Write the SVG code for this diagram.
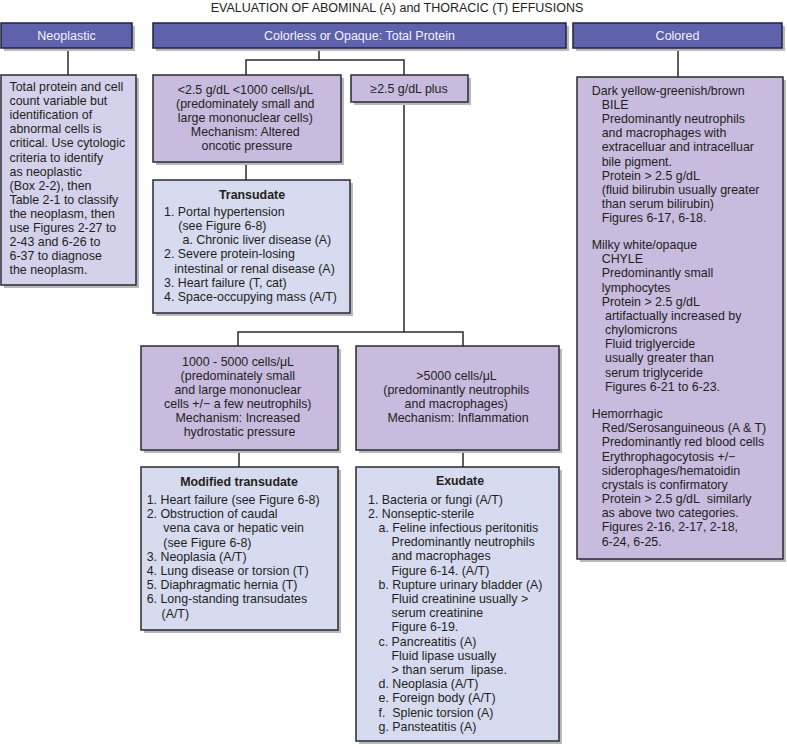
<svg xmlns="http://www.w3.org/2000/svg" width="787" height="747" viewBox="0 0 787 747">
<style>
text{font-family:"Liberation Sans",Arial,sans-serif;font-size:12.4px;fill:#231f20}
.title{font-size:12.5px;text-anchor:middle}
.hd{fill:#5e62ac;stroke:#22223a;stroke-width:1.5}
.hdt{fill:#f4f4fa;font-size:12.5px;text-anchor:middle}
.pu{fill:#c8bbde;stroke:#2a2a33;stroke-width:1.5}
.bl{fill:#d6dbef;stroke:#2a2a33;stroke-width:1.5}
.ne{fill:#d4d1ea;stroke:#2a2a33;stroke-width:1.5}
.sh{fill:#b9b9bd}
.c{text-anchor:middle}
.b{font-weight:bold}
.ln{fill:none;stroke:#2a2a2a;stroke-width:1.5}
</style>
<rect width="787" height="747" fill="#ffffff"/>
<text class="title" x="397" y="11.5">EVALUATION OF ABOMINAL (A) and THORACIC (T) EFFUSIONS</text>

<g id="connectors">
<path class="ln" d="M68,48V75"/>
<path class="ln" d="M319,48V60M246,75V60H404V75"/>
<path class="ln" d="M246,162V180"/>
<path class="ln" d="M404,102V332M238,346V332H463V346"/>
<path class="ln" d="M239,450V467"/>
<path class="ln" d="M463,450V467"/>
<path class="ln" d="M678,48V77"/>
</g>

<g id="h-neoplastic">
<rect class="sh" x="4" y="26" width="131" height="25"/>
<rect class="hd" x="1" y="23" width="131" height="25"/>
<text class="hdt" x="66.5" y="40">Neoplastic</text>
</g>
<g id="h-colorless">
<rect class="sh" x="156" y="26" width="413" height="25"/>
<rect class="hd" x="153" y="23" width="413" height="25"/>
<text class="hdt" x="359.5" y="40">Colorless or Opaque: Total Protein</text>
</g>
<g id="h-colored">
<rect class="sh" x="576" y="26" width="209" height="25"/>
<rect class="hd" x="573" y="23" width="209" height="25"/>
<text class="hdt" x="677.5" y="40">Colored</text>
</g>

<g id="neoplastic">
<rect class="sh" x="4" y="78" width="135" height="210"/>
<rect class="ne" x="1" y="75" width="135" height="210"/>
<text>
<tspan x="9.5" y="91">Total protein and cell</tspan>
<tspan x="9.5" y="105.1">count variable but</tspan>
<tspan x="9.5" y="119.2">identification of</tspan>
<tspan x="9.5" y="133.3">abnormal cells is</tspan>
<tspan x="9.5" y="147.4">critical. Use cytologic</tspan>
<tspan x="9.5" y="161.5">criteria to identify</tspan>
<tspan x="9.5" y="175.6">as neoplastic</tspan>
<tspan x="9.5" y="189.7">(Box 2-2), then</tspan>
<tspan x="9.5" y="203.8">Table 2-1 to classify</tspan>
<tspan x="9.5" y="217.9">the neoplasm, then</tspan>
<tspan x="9.5" y="232">use Figures 2-27 to</tspan>
<tspan x="9.5" y="246.1">2-43 and 6-26 to</tspan>
<tspan x="9.5" y="260.2">6-37 to diagnose</tspan>
<tspan x="9.5" y="274.3">the neoplasm.</tspan>
</text>
</g>

<g id="low-protein">
<rect class="sh" x="156" y="78" width="188" height="87"/>
<rect class="pu" x="153" y="75" width="188" height="87"/>
<text class="c">
<tspan x="247" y="94">&lt;2.5 g/dL &lt;1000 cells/μL</tspan>
<tspan x="247" y="108.1">(predominately small and</tspan>
<tspan x="247" y="122.2">large mononuclear cells)</tspan>
<tspan x="247" y="136.3">Mechanism: Altered</tspan>
<tspan x="247" y="150.4">oncotic pressure</tspan>
</text>
</g>

<g id="high-protein">
<rect class="sh" x="354" y="78" width="117" height="27"/>
<rect class="pu" x="351" y="75" width="117" height="27"/>
<text class="c" x="409" y="92.5">≥2.5 g/dL plus</text>
</g>

<g id="transudate">
<rect class="sh" x="156" y="183" width="197" height="133"/>
<rect class="bl" x="153" y="180" width="197" height="133"/>
<text class="c b" x="252" y="199">Transudate</text>
<text>
<tspan x="164" y="215.7">1. Portal hypertension</tspan>
<tspan x="178.3" y="229.9">(see Figure 6-8)</tspan>
<tspan x="182.5" y="244.1">a. Chronic liver disease (A)</tspan>
<tspan x="164" y="258.3">2. Severe protein-losing</tspan>
<tspan x="174.3" y="272.5">intestinal or renal disease (A)</tspan>
<tspan x="164" y="286.7">3. Heart failure (T, cat)</tspan>
<tspan x="164" y="300.9">4. Space-occupying mass (A/T)</tspan>
</text>
</g>

<g id="cells-1000-5000">
<rect class="sh" x="144" y="349" width="197" height="104"/>
<rect class="pu" x="141" y="346" width="197" height="104"/>
<text class="c">
<tspan x="239.5" y="365.7">1000 - 5000 cells/μL</tspan>
<tspan x="239.5" y="379.8">(predominately small</tspan>
<tspan x="239.5" y="393.9">and large mononuclear</tspan>
<tspan x="239.5" y="408">cells +/− a few neutrophils)</tspan>
<tspan x="239.5" y="422.1">Mechanism: Increased</tspan>
<tspan x="239.5" y="436.2">hydrostatic pressure</tspan>
</text>
</g>

<g id="cells-5000">
<rect class="sh" x="359" y="349" width="203" height="104"/>
<rect class="pu" x="356" y="346" width="203" height="104"/>
<text class="c">
<tspan x="458" y="379.7">&gt;5000 cells/μL</tspan>
<tspan x="458" y="393.8">(predominantly neutrophils</tspan>
<tspan x="458" y="407.9">and macrophages)</tspan>
<tspan x="458" y="422">Mechanism: Inflammation</tspan>
</text>
</g>

<g id="modified-transudate">
<rect class="sh" x="144" y="470" width="197" height="163"/>
<rect class="bl" x="141" y="467" width="197" height="163"/>
<text class="c b" x="239" y="485.7">Modified transudate</text>
<text>
<tspan x="146.7" y="504">1. Heart failure (see Figure 6-8)</tspan>
<tspan x="146.7" y="518.2">2. Obstruction of caudal</tspan>
<tspan x="163.3" y="532.4">vena cava or hepatic vein</tspan>
<tspan x="163.3" y="546.6">(see Figure 6-8)</tspan>
<tspan x="146.7" y="560.8">3. Neoplasia (A/T)</tspan>
<tspan x="146.7" y="575">4. Lung disease or torsion (T)</tspan>
<tspan x="146.7" y="589.2">5. Diaphragmatic hernia (T)</tspan>
<tspan x="146.7" y="603.4">6. Long-standing transudates</tspan>
<tspan x="161.5" y="617.6">(A/T)</tspan>
</text>
</g>

<g id="exudate">
<rect class="sh" x="359" y="470" width="203" height="274"/>
<rect class="bl" x="356" y="467" width="203" height="274"/>
<text class="c b" x="460" y="485">Exudate</text>
<text>
<tspan x="368" y="503.5">1. Bacteria or fungi (A/T)</tspan>
<tspan x="368" y="517.7">2. Nonseptic-sterile</tspan>
<tspan x="378.5" y="531.9">a. Feline infectious peritonitis</tspan>
<tspan x="391.5" y="546.1">Predominantly neutrophils</tspan>
<tspan x="391.5" y="560.3">and macrophages</tspan>
<tspan x="391.5" y="574.5">Figure 6-14. (A/T)</tspan>
<tspan x="378.5" y="588.7">b. Rupture urinary bladder (A)</tspan>
<tspan x="391.5" y="602.9">Fluid creatinine usually &gt;</tspan>
<tspan x="391.5" y="617.1">serum creatinine</tspan>
<tspan x="391.5" y="631.3">Figure 6-19.</tspan>
<tspan x="378.5" y="645.5">c. Pancreatitis (A)</tspan>
<tspan x="391.5" y="659.7">Fluid lipase usually</tspan>
<tspan x="391.5" y="673.9">&gt; than serum&#160; lipase.</tspan>
<tspan x="378.5" y="688.1">d. Neoplasia (A/T)</tspan>
<tspan x="378.5" y="702.3">e. Foreign body (A/T)</tspan>
<tspan x="378.5" y="716.5">f.&#160; Splenic torsion (A)</tspan>
<tspan x="378.5" y="730.7">g. Pansteatitis (A)</tspan>
</text>
</g>

<g id="colored">
<rect class="sh" x="580" y="80" width="206" height="482"/>
<rect class="pu" x="577" y="77" width="206" height="482"/>
<text>
<tspan x="591.7" y="94.7">Dark yellow-greenish/brown</tspan>
<tspan x="601.7" y="108.9">BILE</tspan>
<tspan x="601.7" y="123">Predominantly neutrophils</tspan>
<tspan x="601.7" y="137.2">and macrophages with</tspan>
<tspan x="601.7" y="151.4">extracelluar and intracelluar</tspan>
<tspan x="601.7" y="165.6">bile pigment.</tspan>
<tspan x="601.7" y="179.7">Protein &gt; 2.5 g/dL</tspan>
<tspan x="601.7" y="193.9">(fluid bilirubin usually greater</tspan>
<tspan x="601.7" y="208.1">than serum bilirubin)</tspan>
<tspan x="601.7" y="222.2">Figures 6-17, 6-18.</tspan>
<tspan x="591.7" y="249">Milky white/opaque</tspan>
<tspan x="601.7" y="263.2">CHYLE</tspan>
<tspan x="601.7" y="277.3">Predominantly small</tspan>
<tspan x="601.7" y="291.5">lymphocytes</tspan>
<tspan x="601.7" y="305.7">Protein &gt; 2.5 g/dL</tspan>
<tspan x="605" y="319.9">artifactually increased by</tspan>
<tspan x="605" y="334">chylomicrons</tspan>
<tspan x="605" y="348.2">Fluid triglyercide</tspan>
<tspan x="605" y="362.4">usually greater than</tspan>
<tspan x="605" y="376.5">serum triglyceride</tspan>
<tspan x="605" y="390.7">Figures 6-21 to 6-23.</tspan>
<tspan x="591.7" y="418">Hemorrhagic</tspan>
<tspan x="601.7" y="432.2">Red/Serosanguineous (A &amp; T)</tspan>
<tspan x="601.7" y="446.3">Predominantly red blood cells</tspan>
<tspan x="601.7" y="460.5">Erythrophagocytosis +/−</tspan>
<tspan x="601.7" y="474.7">siderophages/hematoidin</tspan>
<tspan x="601.7" y="488.9">crystals is confirmatory</tspan>
<tspan x="601.7" y="503">Protein &gt; 2.5 g/dL&#160; similarly</tspan>
<tspan x="601.7" y="517.2">as above two categories.</tspan>
<tspan x="601.7" y="531.4">Figures 2-16, 2-17, 2-18,</tspan>
<tspan x="601.7" y="545.5">6-24, 6-25.</tspan>
</text>
</g>
</svg>
